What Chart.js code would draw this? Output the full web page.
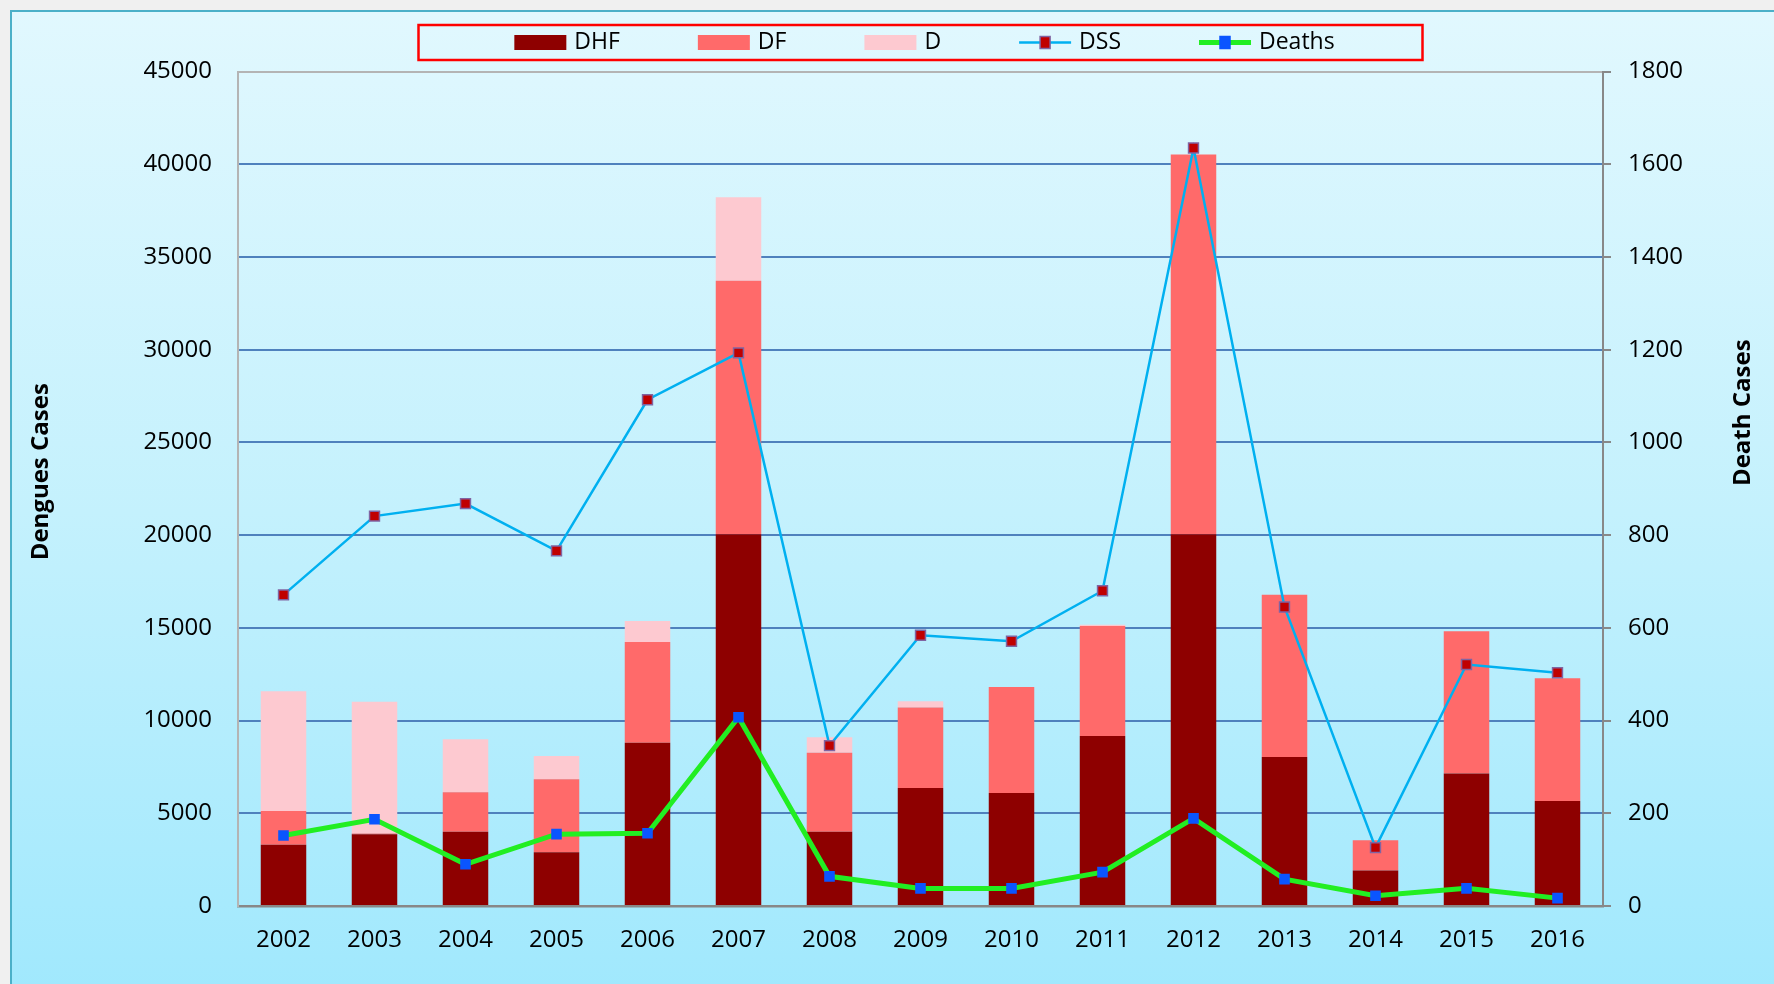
<!DOCTYPE html>
<html>
<head>
<meta charset="utf-8">
<script src="https://cdn.jsdelivr.net/npm/chart.js@4.4.1/dist/chart.umd.min.js"></script>
<style>
  html, body { margin: 0; padding: 0; width: 1774px; height: 984px; overflow: hidden; background: #f0f0f0; }
  #frame {
    position: absolute; left: 10px; top: 10px; width: 1800px; height: 1000px;
    border-top: 2px solid #4bb0c8; border-left: 2px solid #4bb0c8;
    background: linear-gradient(to bottom, #e1f8fe 0%, #c4f1fd 50%, #9fe8fd 100%);
  }
  #chart { position: absolute; left: 0; top: 0; }
</style>
</head>
<body>
<div id="frame"></div>
<canvas id="chart" width="1774" height="984"></canvas>
<script>
// data
const years = ['2002', '2003', '2004', '2005', '2006', '2007', '2008', '2009',
               '2010', '2011', '2012', '2013', '2014', '2015', '2016'];
const dhf = [3300, 3870, 4000, 2900, 8800, 20050, 4000, 6360, 6100, 9170, 20050, 8040, 1920, 7140, 5660];
const df  = [1820, 40, 2130, 3930, 5440, 13670, 4270, 4340, 5710, 5930, 20480, 8740, 1620, 7670, 6620];
const d   = [6460, 7110, 2860, 1260, 1130, 4500, 830, 340, 0, 70, 0, 0, 0, 0, 0];
const dss = [671, 841, 868, 766, 1092, 1193, 346, 584, 571, 680, 1635, 645, 126, 521, 503];
const deaths = [152, 187, 90, 155, 157, 407, 64, 38, 38, 73, 189, 58, 22, 38, 17];

const leftTicks = { min: 0, max: 45000, step: 5000 };
const rightTicks = { min: 0, max: 1800, step: 200 };

const FONT = '"Open Sans", "Noto Sans", sans-serif';

// legend in a red box + the two axis titles
const legendBox = {
  id: 'legendBox',
  afterDraw(chart) {
    const { ctx, chartArea } = chart;
    const cx = (chartArea.left + chartArea.right) / 2;
    ctx.save();
    ctx.font = '23px ' + FONT;
    const sw = 52, gap = 78;
    const items = chart.data.datasets.map(ds => ({ ds, w: sw + 8 + ctx.measureText(ds.label).width }));
    const total = items.reduce((a, i) => a + i.w, 0) + gap * (items.length - 1);

    ctx.strokeStyle = '#ff0000';
    ctx.lineWidth = 2.5;
    ctx.strokeRect(cx - 502, 25, 1004, 35);

    let x = cx - total / 2 + 4;
    const y = 42.5;
    items.forEach(({ ds, w }) => {
      if (ds.type === 'line') {
        ctx.strokeStyle = ds.borderColor;
        ctx.lineWidth = ds.borderWidth;
        ctx.beginPath();
        ctx.moveTo(x, y);
        ctx.lineTo(x + sw, y);
        ctx.stroke();
        const s = 10;
        ctx.fillStyle = ds.pointBackgroundColor;
        ctx.fillRect(x + sw / 2 - s / 2, y - s / 2 - 1, s, s + 2);
        ctx.strokeStyle = ds.pointBorderColor;
        ctx.lineWidth = 1.5;
        ctx.strokeRect(x + sw / 2 - s / 2, y - s / 2 - 1, s, s + 2);
      } else {
        ctx.fillStyle = ds.backgroundColor;
        ctx.fillRect(x, y - 7.5, sw, 15);
      }
      ctx.fillStyle = '#000';
      ctx.textAlign = 'left';
      ctx.textBaseline = 'middle';
      ctx.fillText(ds.label, x + sw + 8, y);
      x += w + gap;
    });

    ctx.font = 'bold 24px ' + FONT;
    ctx.textAlign = 'center';
    ctx.textBaseline = 'middle';
    ctx.fillStyle = '#000';
    const mid = (chartArea.top + chartArea.bottom) / 2;
    ctx.save();
    ctx.translate(41, mid - 17);
    ctx.rotate(-Math.PI / 2);
    ctx.fillText('Dengues Cases', 0, 0);
    ctx.restore();
    ctx.save();
    ctx.translate(1743, mid - 76);
    ctx.rotate(-Math.PI / 2);
    ctx.fillText('Death Cases', 0, 0);
    ctx.restore();
    ctx.restore();
  }
};

const plainNum = v => String(v);

const ctx = document.getElementById('chart').getContext('2d');
new Chart(ctx, {
  type: 'bar',
  data: {
    labels: years,
    datasets: [
      { label: 'DHF', data: dhf, backgroundColor: '#8e0000', yAxisID: 'y', order: 2,
        barPercentage: 0.5, categoryPercentage: 1 },
      { label: 'DF', data: df, backgroundColor: '#ff6a6a', yAxisID: 'y', order: 3,
        barPercentage: 0.5, categoryPercentage: 1 },
      { label: 'D', data: d, backgroundColor: '#fdc9d0', yAxisID: 'y', order: 4,
        barPercentage: 0.5, categoryPercentage: 1 },
      { type: 'line', label: 'DSS', data: dss, yAxisID: 'y1', order: 1,
        borderColor: '#00b0f0', borderWidth: 2.5, tension: 0,
        pointStyle: 'rect', pointRadius: 7, pointBackgroundColor: '#c00000',
        pointBorderColor: '#8064a2', pointBorderWidth: 1.5 },
      { type: 'line', label: 'Deaths', data: deaths, yAxisID: 'y1', order: 0,
        borderColor: '#22ee22', borderWidth: 5, tension: 0,
        pointStyle: 'rect', pointRadius: 7.5, pointBackgroundColor: '#0a55ff',
        pointBorderColor: '#0a55ff', pointBorderWidth: 0 }
    ]
  },
  options: {
    responsive: false,
    animation: false,
    layout: { padding: { top: 71.5, left: 0, right: 0, bottom: 0 } },
    plugins: {
      legend: { display: false },
      tooltip: { enabled: false }
    },
    scales: {
      x: {
        stacked: true,
        grid: { display: true, drawOnChartArea: false, drawTicks: false },
        border: { display: true, color: '#888888', width: 2.5 },
        ticks: { color: '#000', font: { family: FONT, size: 24 }, padding: 20, maxRotation: 0 },
        afterFit: s => { s.height = 78; }
      },
      y: {
        stacked: true,
        position: 'left',
        min: leftTicks.min,
        max: leftTicks.max,
        ticks: { stepSize: leftTicks.step, color: '#000', font: { family: FONT, size: 24 }, padding: 26,
                 callback: plainNum },
        grid: {
          color: c => (c.tick && c.tick.value === leftTicks.max) ? '#b4b4b4' : '#4f81bd',
          lineWidth: 2,
          drawTicks: false
        },
        border: { color: '#b4b4b4', width: 2 },
        afterFit: s => { s.width = 238; }
      },
      y1: {
        stacked: false,
        position: 'right',
        min: rightTicks.min,
        max: rightTicks.max,
        ticks: { stepSize: rightTicks.step, color: '#000', font: { family: FONT, size: 24 }, padding: 17,
                 callback: plainNum },
        grid: { drawOnChartArea: false, drawTicks: true, tickLength: 8, color: '#888888', lineWidth: 2 },
        border: { color: '#888888', width: 2 },
        afterFit: s => { s.width = 171; }
      }
    }
  },
  plugins: [legendBox]
});
</script>
</body>
</html>
